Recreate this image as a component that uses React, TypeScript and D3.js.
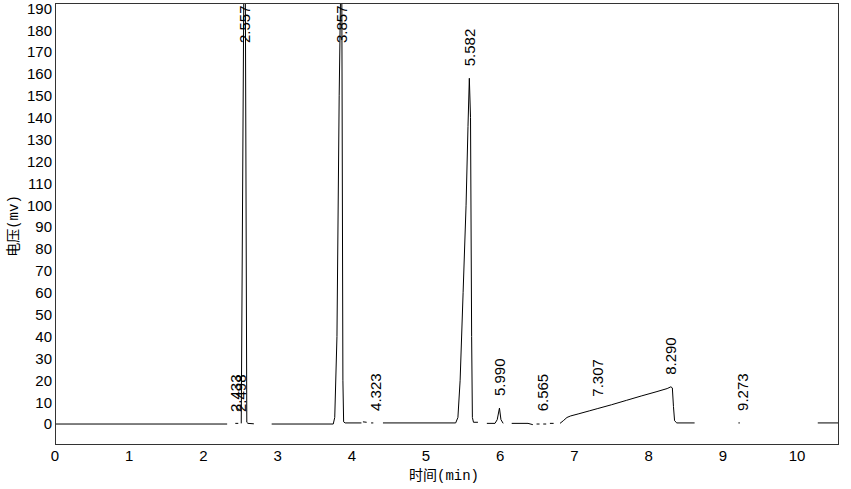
import React from "react";
import * as d3 from "d3";

const W = 851;
const H = 489;

const traceT = [
  0, 2.32, NaN,
  2.43, 2.47, NaN,
  2.51, 2.545, 2.565, 2.585, 2.6, 2.68, NaN,
  2.92, 3.75, 3.77, 3.8, 3.83, 3.85, 3.865, 3.88, 3.89, 3.91, 4.13, NaN,
  4.15, 4.2, NaN,
  4.26, 4.29, NaN,
  4.42, 5.4, 5.43, 5.46, 5.5, 5.54, 5.566, 5.584, 5.6, 5.615, 5.625, 5.64, 5.7, NaN,
  5.82, 5.93, 5.96, 5.99, 6.01, 6.04, NaN,
  6.155, 6.375, 6.44, NaN,
  6.49, 6.53, NaN,
  6.58, 6.62, NaN,
  6.67, 6.72, NaN,
  6.806, 6.85, 6.9, 6.95, 7.05, 7.2, 7.307, 7.5, 7.7, 7.9, 8.1, 8.25, 8.3, 8.32, 8.335, 8.35, 8.38, 8.62, NaN,
  9.21, 9.23, NaN,
  10.28, 10.566,
];
const traceV = [
  0, 0, NaN,
  0.3, 0.3, NaN,
  0.3, 200, 200, 0.8, 0.3, 0.1, NaN,
  0, 0, 3, 40, 150, 200, 200, 20, 1, 0.5, 0.5, NaN,
  1, 0.8, NaN,
  0.5, 0.5, NaN,
  0.5, 0.5, 3, 20, 60, 100, 136, 158, 140, 40, 3, 0.8, 0.8, NaN,
  0.3, 0.3, 2, 7.3, 2, 0.3, NaN,
  0.3, 0.3, -0.3, NaN,
  0, 0, NaN,
  0, 0, NaN,
  0.3, 0.3, NaN,
  0.3, 1.5, 3, 3.7, 4.6, 6, 7, 8.8, 10.8, 12.8, 14.7, 16.2, 17, 16.5, 8, 1.5, 0.5, 0.5, NaN,
  0.5, 0.5, NaN,
  0.5, 0.5,
];

// Peak labels
const peakLabels = ["2.433", "2.498", "2.557", "3.857", "4.323", "5.582", "5.990", "6.565", "7.307", "8.290", "9.273"];
const peakApex = [0, 0, 200, 200, 0.5, 158, 7.3, 0.3, 7, 17, 0.5];

const xTicks = [0, 1, 2, 3, 4, 5, 6, 7, 8, 9, 10];
const yTicks = [0, 10, 20, 30, 40, 50, 60, 70, 80, 90, 100, 110, 120, 130, 140, 150, 160, 170, 180, 190];

const xTitle = "时间(min)";
const yTitle = "电压(mv)";

export default function App() {
  const left = 55, right = 839, top = 3, bottom = 444;
  const x = d3.scaleLinear().domain([0, 10.566]).range([left, right]);
  const y = d3.scaleLinear().domain([-9.13, 192.4]).range([bottom, top]);

  const pts = traceT.map((t, i) => [t, traceV[i]] as [number, number]);
  const line = d3
    .line<[number, number]>()
    .defined((d) => !isNaN(d[0]) && !isNaN(d[1]))
    .x((d) => x(d[0]))
    .y((d) => y(d[1]));

  const font = "'Liberation Sans', Arial, sans-serif";
  const labelLen = 38;

  return (
    <svg width={W} height={H} style={{ position: "absolute", left: 0, top: 0, background: "#fff" }}>
      <defs>
        <clipPath id="plotclip">
          <rect x={left} y={top} width={right - left} height={bottom - top} />
        </clipPath>
      </defs>
      <rect x={0} y={0} width={W} height={H} fill="#fff" />
      <g clipPath="url(#plotclip)">
        <path d={line(pts) || ""} fill="none" stroke="#000" strokeWidth={1} />
      </g>
      <rect x={left + 0.5} y={top + 0.5} width={right - left - 1} height={bottom - top} fill="none" stroke="#333" strokeWidth={1} />
      {yTicks.map((v) => (
        <text key={"y" + v} x={52} y={y(v)} dy="0.36em" textAnchor="end" fontFamily={font} fontSize={15} fill="#000">
          {v}
        </text>
      ))}
      {xTicks.map((v) => (
        <text key={"x" + v} x={x(v)} y={461} textAnchor="middle" fontFamily={font} fontSize={15} fill="#000">
          {v}
        </text>
      ))}
      {peakLabels.map((lab, i) => {
        const t = parseFloat(lab);
        const ax = x(t);
        const by = Math.max(y(peakApex[i]) - 12, top + 2 + labelLen);
        return (
          <text
            key={"p" + i}
            transform={`translate(${ax},${by}) rotate(-90)`}
            dy="0.36em"
            textAnchor="start"
            fontFamily={font}
            fontSize={15}
            fill="#000"
          >
            {lab}
          </text>
        );
      })}
      <text x={444} y={480} textAnchor="middle" fontFamily="'Liberation Mono', 'Noto Sans CJK SC', monospace" fontSize={14} fill="#000">
        {xTitle}
      </text>
      <text
        transform={`translate(18,226) rotate(-90)`}
        textAnchor="middle"
        fontFamily="'Liberation Mono', 'Noto Sans CJK SC', monospace"
        fontSize={14}
        fill="#000"
      >
        {yTitle}
      </text>
    </svg>
  );
}
